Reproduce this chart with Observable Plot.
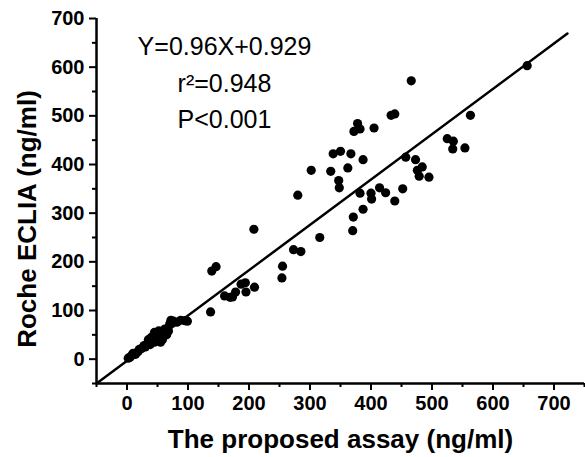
<!DOCTYPE html>
<html>
<head>
<meta charset="utf-8">
<script src="https://cdn.jsdelivr.net/npm/d3@7"></script>
<script src="https://cdn.jsdelivr.net/npm/@observablehq/plot@0.6"></script>
<style>
  html, body { margin: 0; padding: 0; background: #fff; }
  #chart svg { display: block; }
</style>
</head>
<body>
<div id="chart"></div>
<script>
// Proposed assay (x) vs Roche ECLIA (y), ng/ml
const proposedAssay = [
  2, 5, 8, 10, 14, 18, 20, 24, 28, 30, 34, 38, 40, 42, 45, 48, 50, 52, 55, 58,
  60, 62, 65, 68, 70, 72, 76, 82, 88, 95, 99, 55, 45, 35,
  137, 139, 146, 160, 169, 178, 195, 173, 187, 194, 209, 208, 254, 255, 273, 285,
  280, 302, 316, 334, 338, 350, 367, 387, 362, 347, 348, 382, 400, 401, 414, 424,
  439, 387, 371, 370, 452, 378, 382, 372, 405, 433, 439, 466, 457, 473, 476, 484,
  479, 495, 525, 535, 534, 554, 563, 656
];
const rocheEclia = [
  2, 4, 8, 12, 10, 15, 20, 22, 28, 25, 32, 30, 45, 38, 35, 50, 42, 58, 48, 40,
  55, 62, 50, 58, 72, 80, 78, 76, 80, 79, 78, 35, 55, 40,
  97, 181, 190, 130, 127, 138, 138, 128, 154, 157, 148, 267, 167, 191, 225, 221,
  337, 388, 250, 386, 422, 427, 422, 410, 393, 367, 352, 341, 341, 329, 352, 342,
  325, 308, 292, 264, 350, 484, 473, 468, 475, 501, 504, 572, 415, 410, 388, 395,
  376, 374, 453, 448, 432, 434, 501, 603
];
// Fitted line as drawn in the figure (end points)
const fitX = [-50, 722];
const fitY = [-50, 669];
// Axes
const majorTicks = [0, 100, 200, 300, 400, 500, 600, 700];
const minorTicksX = [-50, 50, 150, 250, 350, 450, 550, 650, 750];
const minorTicksY = [-50, 50, 150, 250, 350, 450, 550, 650];
const xLabel = "The proposed assay (ng/ml)";
const yLabel = "Roche ECLIA (ng/ml)";
const annotation = ["Y=0.96X+0.929", "r\u00B2=0.948", "P<0.001"];

const points = proposedAssay.map((x, i) => ({x, y: rocheEclia[i]}));
const fitLine = fitX.map((x, i) => ({x, y: fitY[i]}));

const font = "'Liberation Sans', Arial, sans-serif";

const chart = Plot.plot({
  width: 585,
  height: 457,
  marginLeft: 96,
  marginRight: 1,
  marginTop: 18,
  marginBottom: 74,
  style: {fontFamily: font, color: "#000", background: "#fff"},
  x: {domain: [-50, 750]},
  y: {domain: [-50, 700]},
  marks: [
    Plot.axisX(majorTicks, {tickSize: 7, tickPadding: 5, fontSize: 20, fontWeight: "bold", strokeWidth: 2, label: null}),
    Plot.axisX(minorTicksX, {tickSize: 4, tickFormat: () => "", strokeWidth: 2, label: null}),
    Plot.axisY(majorTicks, {tickSize: 7, tickPadding: 5, fontSize: 20, fontWeight: "bold", strokeWidth: 2, label: null}),
    Plot.axisY(minorTicksY, {tickSize: 4, tickFormat: () => "", strokeWidth: 2, label: null}),
    Plot.ruleY([-50], {stroke: "#000", strokeWidth: 2.5}),
    Plot.ruleX([-50], {stroke: "#000", strokeWidth: 2.5}),
    Plot.line(fitLine, {x: "x", y: "y", stroke: "#000", strokeWidth: 2.5}),
    Plot.dot(points, {x: "x", y: "y", r: 4.6, fill: "#000", stroke: "none"}),
    Plot.text([xLabel], {frameAnchor: "bottom", dy: 64, fontSize: 26, fontWeight: "bold", fill: "#000"}),
    Plot.text([yLabel], {frameAnchor: "left", textAnchor: "middle", rotate: -90, dx: -69, dy: 18, fontSize: 26, fontWeight: "bold", fill: "#000"}),
    Plot.text([annotation.join("\n")], {frameAnchor: "top-left", textAnchor: "middle", lineAnchor: "top", lineHeight: 1.46, dx: 128, dy: 11, fontSize: 25, fill: "#000"})
  ]
});
document.getElementById("chart").appendChild(chart);
</script>
</body>
</html>
